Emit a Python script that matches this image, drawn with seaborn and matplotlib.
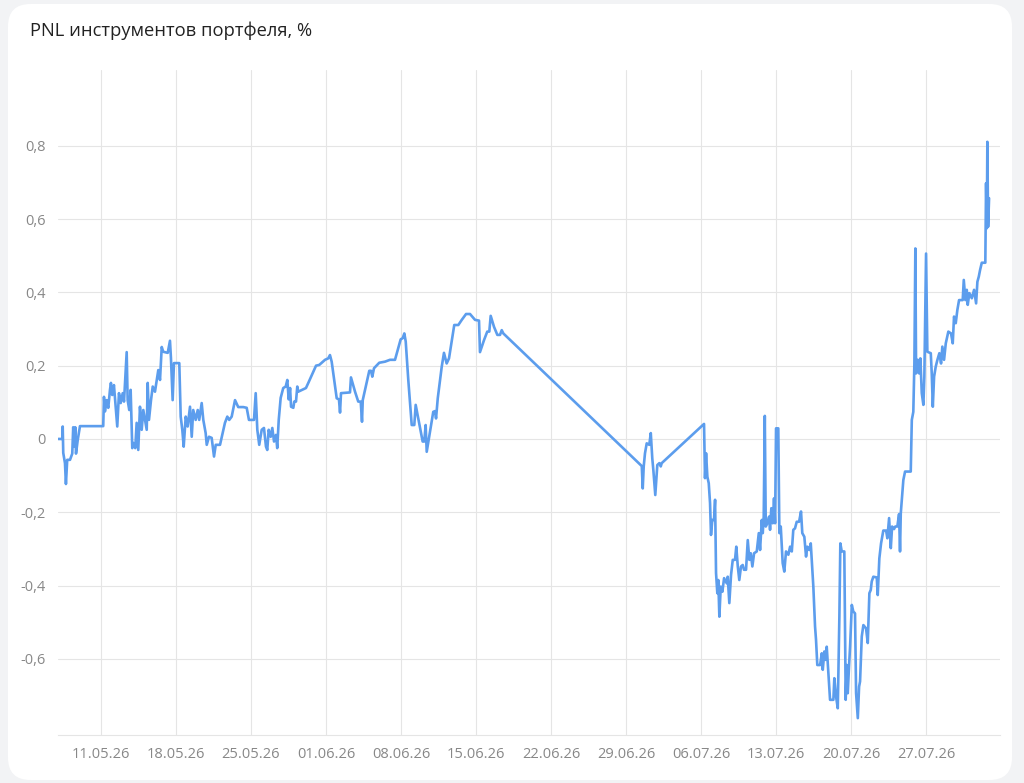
import pandas as pd
import seaborn as sns
import matplotlib.pyplot as plt
import matplotlib.dates as mdates
from matplotlib.patches import FancyBboxPatch
from matplotlib.ticker import FuncFormatter, FixedLocator

# days after 11.05.2026 and PNL values
start = "2026-05-11"
days = [
    -3.99, -3.61, -3.57, -3.52, -3.36, -3.27, -3.15, -2.89, -2.68, -2.59, -2.49, -2.40, -2.33, -2.17, -1.96,
    0.21, 0.28, 0.37, 0.53, 0.68, 0.84, 0.93, 1.05, 1.21, 1.37, 1.52, 1.68, 1.84, 2.03, 2.15, 2.40, 2.49,
    2.64, 2.77, 2.92, 3.01, 3.20, 3.33, 3.48, 3.64, 3.80, 3.95, 4.11, 4.27, 4.36, 4.48, 4.67, 4.83, 5.04,
    5.35, 5.51, 5.67, 5.81, 6.23, 6.44, 6.53, 6.69, 6.81, 7.31, 7.44, 7.59, 7.72, 7.91, 8.09, 8.31, 8.47,
    8.61, 8.84, 9.03, 9.17, 9.40, 9.55, 9.77, 9.87, 10.08, 10.33, 10.55, 10.71, 11.11, 11.36, 11.57, 11.79,
    11.97, 12.20, 12.51, 12.81, 13.28, 13.60, 13.81, 14.28, 14.44, 14.59, 14.77, 15.00, 15.21, 15.40, 15.52,
    15.65, 15.84, 15.99, 16.15, 16.33, 16.45, 16.59, 16.77, 17.01, 17.24, 17.39, 17.52, 17.65, 17.74,
    17.95, 18.04, 18.20, 18.32, 18.41, 19.13, 19.35, 20.07, 20.37, 20.91, 21.21, 21.37, 21.53, 22.00,
    22.21, 22.31, 22.40, 23.24, 23.33, 23.71, 24.01, 24.24, 24.36, 24.43, 25.04, 25.20, 25.32, 25.48,
    25.97, 26.51, 26.97, 27.44, 27.97, 28.16, 28.31, 28.44, 28.68, 29.00, 29.24, 29.37, 29.61, 30.02,
    30.17, 30.30, 30.40, 30.71, 31.01, 31.17, 31.27, 31.43, 31.80, 32.01, 32.26, 32.48, 32.97, 33.35,
    33.67, 34.07, 34.44, 34.91, 35.28, 35.37, 35.75, 36.05, 36.24, 36.37, 36.68, 36.99, 37.24, 37.40, 37.55,
    50.47, 50.56, 50.65, 50.77, 50.93, 51.17, 51.31, 51.45, 51.55, 51.73, 51.92, 52.11, 52.24, 52.33,
    56.28, 56.37, 56.47, 56.59, 56.72, 56.84, 56.93, 57.05, 57.21, 57.31, 57.40, 57.52, 57.61, 57.71,
    57.84, 57.99, 58.15, 58.40, 58.49, 58.64, 58.80, 58.96, 59.17, 59.29, 59.43, 59.57, 59.73, 59.89,
    60.01, 60.20, 60.36, 60.51, 60.64, 60.79, 60.95, 61.20, 61.39, 61.51, 61.67, 61.76, 61.85, 61.95,
    62.04, 62.19, 62.35, 62.44, 62.56, 62.69, 62.81, 62.91, 63.00, 63.21, 63.31, 63.44, 63.62, 63.77,
    63.93, 64.15, 64.31, 64.47, 64.61, 64.77, 64.93, 65.15, 65.33, 65.45, 65.64, 65.80, 65.92, 66.11,
    66.24, 66.48, 66.64, 66.73, 66.85, 67.11, 67.27, 67.36, 67.51, 67.64, 67.73, 67.88, 68.04, 68.35,
    68.44, 68.60, 68.76, 68.91, 69.00, 69.13, 69.37, 69.50, 69.60, 69.69, 69.81, 69.91, 70.07, 70.21,
    70.37, 70.47, 70.63, 70.75, 70.84, 71.00, 71.15, 71.40, 71.56, 71.71, 71.84, 71.93, 72.08, 72.40,
    72.49, 72.64, 72.80, 73.01, 73.27, 73.39, 73.55, 73.71, 73.83, 74.01, 74.13, 74.32, 74.48, 74.57,
    74.64, 74.76, 74.88, 75.04, 75.57, 75.67, 75.81, 75.91, 76.00, 76.07, 76.23, 76.35, 76.47, 76.60,
    76.75, 76.84, 77.00, 77.12, 77.44, 77.53, 77.63, 77.75, 77.90, 78.06, 78.24, 78.40, 78.52, 78.68,
    78.84, 79.08, 79.33, 79.49, 79.61, 79.77, 79.92, 80.08, 80.42, 80.52, 80.67, 80.80, 80.89, 81.04,
    81.27, 81.48, 81.67, 81.79, 81.92, 82.04, 82.20, 82.53, 82.60, 82.67, 82.72, 82.79, 82.88,
]
pnl = [
    0.0, 0.0, 0.034, -0.038, -0.066, -0.123, -0.057, -0.057, -0.04, 0.032, -0.02, 0.032, -0.04, -0.003, 0.035,
    0.035, 0.115, 0.075, 0.106, 0.085, 0.134, 0.153, 0.12, 0.147, 0.088, 0.034, 0.125, 0.098, 0.125, 0.102, 0.237, 0.106,
    0.079, 0.134, -0.025, -0.011, -0.025, 0.044, -0.03, 0.088, 0.025, 0.079, 0.052, 0.025, 0.153, 0.052, 0.106, 0.143, 0.129,
    0.188, 0.161, 0.251, 0.238, 0.235, 0.268, 0.221, 0.106, 0.207, 0.207, 0.061, 0.025, -0.021, 0.061, 0.034, 0.088, 0.006,
    0.079, 0.052, 0.079, 0.052, 0.098, 0.052, 0.016, -0.016, 0.006, 0.003, -0.048, -0.016, -0.016, 0.016, 0.044, 0.061,
    0.052, 0.061, 0.106, 0.087, 0.087, 0.085, 0.052, 0.052, 0.125, 0.025, -0.016, 0.025, 0.03, -0.021, -0.03,
    0.025, 0.006, 0.03, -0.007, 0.011, -0.025, 0.052, 0.112, 0.139, 0.143, 0.161, 0.108, 0.139, 0.088,
    0.085, 0.102, 0.102, 0.143, 0.129, 0.139, 0.153, 0.2, 0.202, 0.216, 0.22, 0.229, 0.211, 0.111,
    0.108, 0.072, 0.125, 0.127, 0.168, 0.129, 0.102, 0.102, 0.047, 0.106, 0.186, 0.186, 0.17, 0.193,
    0.208, 0.211, 0.216, 0.216, 0.272, 0.275, 0.288, 0.266, 0.161, 0.038, 0.038, 0.093, 0.056, -0.007,
    -0.007, 0.038, -0.035, 0.02, 0.074, 0.076, 0.056, 0.111, 0.197, 0.235, 0.206, 0.22, 0.311, 0.311,
    0.325, 0.341, 0.341, 0.325, 0.323, 0.237, 0.27, 0.293, 0.293, 0.336, 0.306, 0.284, 0.284, 0.297, 0.288,
    -0.074, -0.135, -0.075, -0.039, -0.012, -0.016, 0.016, -0.053, -0.085, -0.153, -0.071, -0.066, -0.075, -0.066,
    0.041, -0.107, -0.039, -0.103, -0.121, -0.175, -0.262, -0.221, -0.221, -0.166, -0.366, -0.421, -0.385, -0.485,
    -0.403, -0.417, -0.38, -0.394, -0.376, -0.448, -0.371, -0.33, -0.33, -0.294, -0.348, -0.385, -0.348, -0.344,
    -0.357, -0.357, -0.276, -0.33, -0.312, -0.348, -0.312, -0.307, -0.257, -0.303, -0.221, -0.257, -0.212, 0.063,
    -0.239, -0.23, -0.212, -0.248, -0.189, -0.23, -0.162, -0.23, 0.029, 0.029, -0.257, -0.239, -0.339, -0.362,
    -0.307, -0.316, -0.294, -0.307, -0.248, -0.244, -0.226, -0.226, -0.198, -0.257, -0.267, -0.321, -0.294, -0.303,
    -0.285, -0.403, -0.512, -0.548, -0.617, -0.617, -0.585, -0.63, -0.58, -0.603, -0.567, -0.639, -0.712, -0.712,
    -0.653, -0.703, -0.735, -0.485, -0.285, -0.307, -0.307, -0.712, -0.617, -0.694, -0.621, -0.567, -0.453, -0.471,
    -0.476, -0.694, -0.762, -0.676, -0.662, -0.539, -0.508, -0.517, -0.557, -0.421, -0.412, -0.389, -0.376, -0.378,
    -0.426, -0.326, -0.285, -0.25, -0.25, -0.271, -0.216, -0.298, -0.239, -0.246, -0.239, -0.239, -0.205, -0.307,
    -0.203, -0.157, -0.112, -0.089, -0.089, 0.052, 0.074, 0.206, 0.52, 0.179, 0.216, 0.179, 0.22, 0.125,
    0.093, 0.17, 0.506, 0.238, 0.234, 0.179, 0.088, 0.17, 0.197, 0.216, 0.234, 0.206, 0.252, 0.216,
    0.261, 0.293, 0.288, 0.261, 0.334, 0.316, 0.352, 0.379, 0.379, 0.434, 0.379, 0.407, 0.366, 0.398,
    0.384, 0.407, 0.37, 0.429, 0.443, 0.461, 0.481, 0.481, 0.698, 0.575, 0.811, 0.579, 0.657,
]
y_ticks = [-0.6, -0.4, -0.2, 0.0, 0.2, 0.4, 0.6, 0.8]
title = "PNL инструментов портфеля, %"

df = pd.DataFrame({
    "date": pd.Timestamp(start) + pd.to_timedelta(days, unit="D"),
    "pnl": pnl,
})

sns.set_style("white")
plt.rcParams["font.family"] = ["Open Sans", "DejaVu Sans"]

grid_c = "#e5e5e5"
label_c = "#888888"

fig = plt.figure(figsize=(10.24, 7.83), dpi=100)
fig.patch.set_facecolor("#f2f3f5")
card = FancyBboxPatch((8 / 1024, 3 / 783), 1004 / 1024, 776 / 783,
                      boxstyle="round,pad=0,rounding_size=0.022",
                      transform=fig.transFigure, facecolor="white",
                      edgecolor="none", mutation_aspect=1024 / 783, zorder=-5)
fig.patches.append(card)

ax = fig.add_axes([58 / 1024, 1 - 735 / 783, 942 / 1024, 665 / 783])
ax.set_facecolor("none")
ax.set_zorder(2)

sns.lineplot(data=df, x="date", y="pnl", ax=ax, color="#5c9ded",
             linewidth=1.9, estimator=None, sort=False)

ax.set_xlim(pd.Timestamp(start) - pd.Timedelta(days=4.01),
            pd.Timestamp(start) + pd.Timedelta(days=83.9))
ax.set_ylim(-0.808, 1.007)

ax.xaxis.set_major_locator(mdates.WeekdayLocator(byweekday=mdates.MO))
ax.xaxis.set_major_formatter(mdates.DateFormatter("%d.%m.%y"))
ax.yaxis.set_major_locator(FixedLocator(y_ticks))
ax.yaxis.set_major_formatter(FuncFormatter(
    lambda v, p: "0" if abs(v) < 1e-9 else f"{v:.1f}".replace(".", ",")))

ax.grid(True, color=grid_c, linewidth=0.8)
for s in ["top", "right", "left"]:
    ax.spines[s].set_visible(False)
ax.spines["bottom"].set_color(grid_c)
ax.spines["bottom"].set_linewidth(0.8)

ax.tick_params(axis="x", colors=label_c, labelsize=10.5, length=5.5,
               width=0.8, color=grid_c, pad=3)
ax.tick_params(axis="x", labelcolor=label_c)
ax.tick_params(axis="y", colors=label_c, labelsize=10.5, length=0, pad=9)
ax.set_xlabel("")
ax.set_ylabel("")

fig.text(30 / 1024, 1 - 31 / 783, title, fontsize=13.2, color="#222222",
         va="center", ha="left")

fig.savefig("out.png", dpi=100, facecolor=fig.get_facecolor())
